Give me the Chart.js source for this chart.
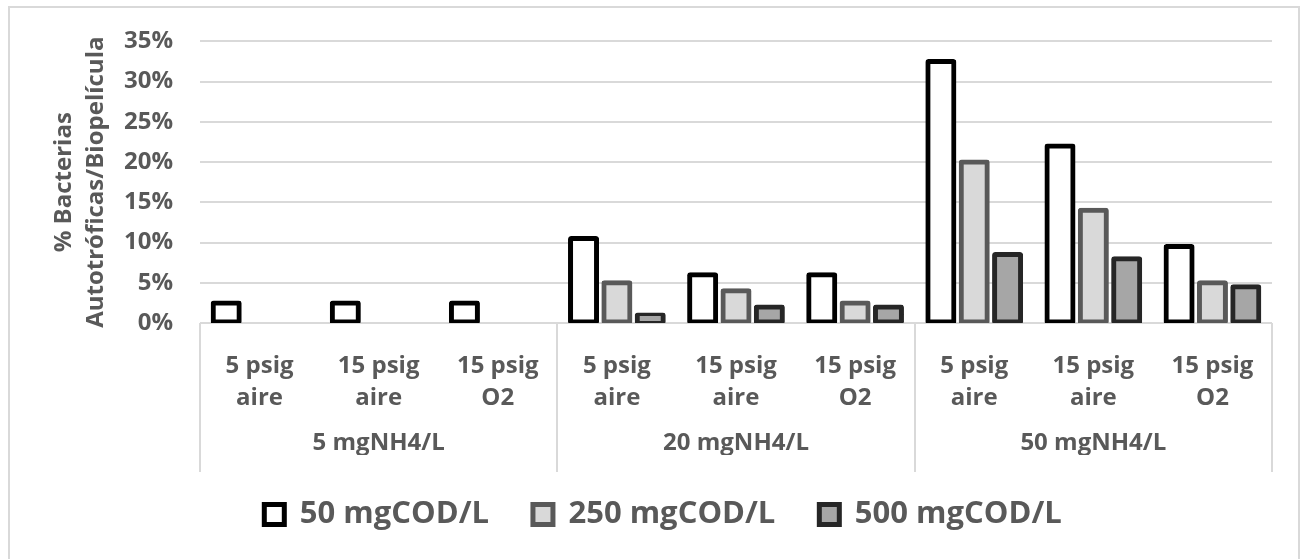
<!DOCTYPE html>
<html>
<head>
<meta charset="utf-8">
<script src="https://cdn.jsdelivr.net/npm/chart.js@4.4.1/dist/chart.umd.min.js"></script>
<style>
  html, body { margin: 0; padding: 0; background: #fff; overflow: hidden; }
  #frame { position: absolute; left: 8px; top: 6px; width: 1288px; height: 560px; border: 2px solid #d9d9d9; }
  #wrap { position: absolute; left: 0; top: 0; width: 1300px; height: 559px; }
</style>
</head>
<body>
<div id="frame"></div>
<div id="wrap"><canvas id="chart"></canvas></div>
<script>
// categories (two levels)
const conditions = [
  ['5 psig', 'aire'], ['15 psig', 'aire'], ['15 psig', 'O2'],
  ['5 psig', 'aire'], ['15 psig', 'aire'], ['15 psig', 'O2'],
  ['5 psig', 'aire'], ['15 psig', 'aire'], ['15 psig', 'O2']
];
const groups = ['5 mgNH4/L', '20 mgNH4/L', '50 mgNH4/L'];

// series values (%)
const cod50 = [2.5, 2.5, 2.5, 10.5, 6, 6, 32.5, 22, 9.5];
const cod250 = [null, null, null, 5, 4, 2.5, 20, 14, 5];
const cod500 = [null, null, null, 1, 2, 2, 8.5, 8, 4.5];
const seriesNames = ['50 mgCOD/L', '250 mgCOD/L', '500 mgCOD/L'];

// y axis
const yMax = 35;
const yStep = 5;
const yTitle = ['% Bacterias', 'Autotróficas/Biopelícula'];

const textColor = '#595959';
const gridColor = '#d9d9d9';
Chart.defaults.font.family = "'Open Sans', sans-serif";

// vertical separators between the NH4 groups
const groupLines = {
  id: 'groupLines',
  afterDraw(chart) {
    const { ctx, scales: { x, x2 } } = chart;
    const step = x2.width / groups.length;
    ctx.save();
    ctx.strokeStyle = gridColor;
    ctx.lineWidth = 2;
    for (let i = 0; i <= groups.length; i++) {
      const px = Math.round(x2.left + i * step);
      ctx.beginPath();
      ctx.moveTo(px, x.top);
      ctx.lineTo(px, x2.bottom + 17);
      ctx.stroke();
    }
    ctx.restore();
  }
};

// outline centred on the bar edge, like the spreadsheet chart
const barStyle = {
  borderWidth: 5,
  borderSkipped: false,
  borderRadius: 3,
  inflateAmount: 2.5,
  categoryPercentage: 0.84,
  barPercentage: 0.78
};

new Chart(document.getElementById('chart'), {
  type: 'bar',
  data: {
    labels: conditions,
    datasets: [
      { label: seriesNames[0], data: cod50, backgroundColor: '#ffffff', borderColor: '#000000', ...barStyle },
      { label: seriesNames[1], data: cod250, backgroundColor: '#d9d9d9', borderColor: '#595959', ...barStyle },
      { label: seriesNames[2], data: cod500, backgroundColor: '#a6a6a6', borderColor: '#262626', ...barStyle }
    ]
  },
  options: {
    responsive: true,
    maintainAspectRatio: false,
    animation: false,
    layout: { padding: { top: 38, left: 54, right: 28, bottom: 19 } },
    plugins: {
      tooltip: { enabled: false },
      legend: {
        position: 'bottom',
        labels: {
          boxWidth: 20,
          boxHeight: 20,
          padding: 44,
          color: textColor,
          font: { size: 31, weight: 'bold' }
        }
      }
    },
    scales: {
      y: {
        min: 0,
        max: yMax,
        ticks: {
          stepSize: yStep,
          padding: 27,
          color: textColor,
          font: { size: 24, weight: 'bold' },
          callback: v => v + '%'
        },
        grid: { color: gridColor, lineWidth: 2, drawTicks: false },
        border: { display: false },
        title: {
          display: true,
          text: yTitle,
          color: textColor,
          font: { size: 24, weight: 'bold', lineHeight: 1.3 },
          padding: { top: -5, bottom: 0 }
        },
        afterFit: s => { s.width = 146; }
      },
      x: {
        weight: 0,
        ticks: {
          autoSkip: false,
          maxRotation: 0,
          padding: 27,
          color: textColor,
          font: { size: 24, weight: 'bold', lineHeight: 1.333 }
        },
        grid: { display: false, drawTicks: false },
        border: { display: false },
        afterFit: s => { s.height = 91; }
      },
      x2: {
        type: 'category',
        labels: groups,
        position: 'bottom',
        weight: 1,
        offset: true,
        ticks: {
          autoSkip: false,
          maxRotation: 0,
          padding: 13,
          color: textColor,
          font: { size: 24, weight: 'bold', lineHeight: 1.333 }
        },
        grid: { display: false, drawTicks: false },
        border: { display: false },
        afterFit: s => { s.height = 41; }
      }
    }
  },
  plugins: [groupLines]
});
</script>
</body>
</html>
